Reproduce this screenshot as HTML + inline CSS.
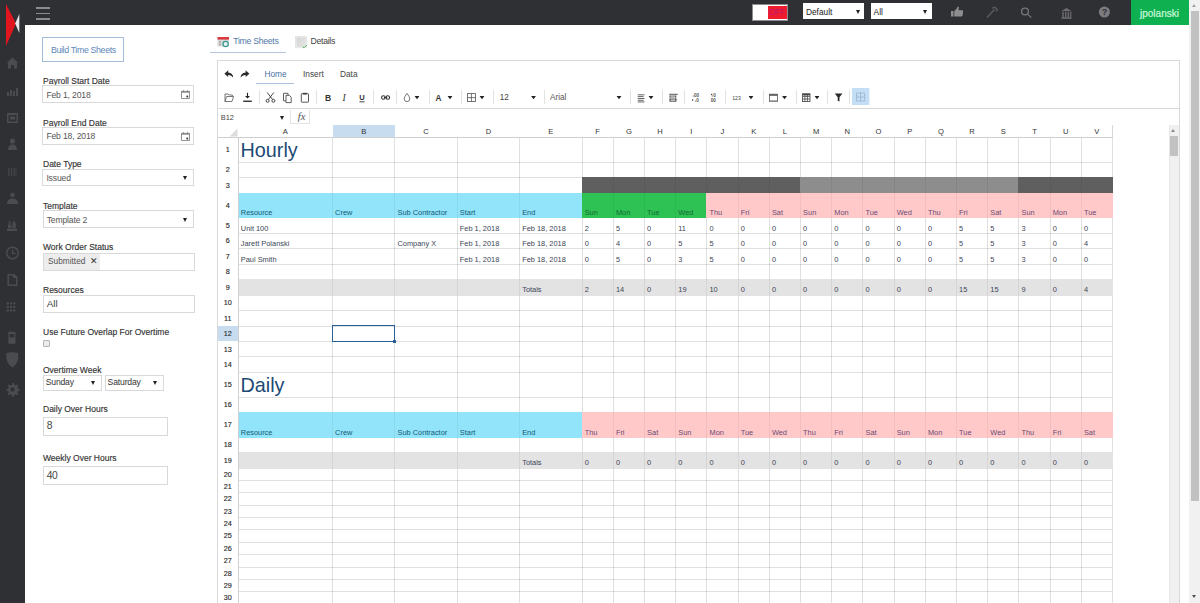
<!DOCTYPE html>
<html><head><meta charset="utf-8"><title>Time Sheets</title>
<style>
*{box-sizing:border-box;margin:0;padding:0}
html,body{width:1200px;height:603px;overflow:hidden;background:#fff}
body{position:relative;font-family:"Liberation Sans", Arial, sans-serif;color:#333}
.abs{position:absolute}
.t{position:absolute;white-space:nowrap;line-height:1}
.lbl{position:absolute;white-space:nowrap;line-height:1;font-size:8.5px;color:#333;-webkit-text-stroke:0.15px #333}
.inp{position:absolute;border:1px solid #d9d9d9;background:#fff}
.inp span{position:absolute;white-space:nowrap;line-height:1}
.arr{position:absolute;width:0;height:0;border-left:2.8px solid transparent;border-right:2.8px solid transparent;border-top:4px solid #222}
.hl{position:absolute;height:1px;background:#dadada}
.vl{position:absolute;width:1px;background:#dadada}
.cell{position:absolute;white-space:nowrap;line-height:1;font-size:7.4px;color:#4b5060}
.sep{position:absolute;width:1px;height:14.5px;top:89.8px;background:#e2e2e2}
</style></head><body>
<div class="abs" style="left:0;top:0;width:1189px;height:25px;background:#2f3034"></div><div class="abs" style="left:1130.5px;top:0;width:58.5px;height:25px;background:#0eb04f"></div><div class="t" style="left:1140px;top:8.6px;font-size:10px;color:#cdf8dc;-webkit-text-stroke:0.2px #cdf8dc">jpolanski</div><div class="abs" style="left:36px;top:7px;width:13.5px;height:1.8px;background:#8c8c8e"></div><div class="abs" style="left:36px;top:12.6px;width:13.5px;height:1.8px;background:#8c8c8e"></div><div class="abs" style="left:36px;top:18.2px;width:13.5px;height:1.8px;background:#8c8c8e"></div><div class="abs" style="left:752px;top:4.2px;width:35.5px;height:16.4px;border:1.5px solid #8e8e8e;background:#fff"></div><div class="abs" style="left:767.6px;top:5.7px;width:19px;height:13.4px;background:#ee1c2c"></div><div class="t" style="left:768.8px;top:8.2px;font-size:9px;letter-spacing:-0.6px;color:#c4186a">OFF</div><div class="abs" style="left:803px;top:3.3px;width:61px;height:16px;background:#fff"></div><div class="t" style="left:806px;top:7.6px;font-size:8.3px;color:#222">Default</div><div class="arr" style="left:855.8px;top:9.6px"></div><div class="abs" style="left:870.8px;top:3.3px;width:61px;height:16px;background:#fff"></div><div class="t" style="left:873.6px;top:7.6px;font-size:8.3px;color:#222">All</div><div class="arr" style="left:922.6px;top:9.6px"></div><svg class="abs" style="left:940px;top:0" width="180" height="25" viewBox="0 0 180 25">
<g fill="#8e8e90">
 <rect x="11" y="11" width="2.5" height="5.5"/>
 <path d="M14.3 11 L17 8.2 L17.6 6.6 L18.9 7 L18.6 10.2 L22.6 10.2 Q23.5 10.6 23.1 11.6 L22.6 15.6 Q22.3 16.5 21.3 16.5 L14.3 16.5 Z"/>
</g>
<g stroke="#5c5c60" stroke-width="1.3" fill="none">
 <path d="M47 17.5 L54.5 9.5"/>
 <path d="M52 8.2 L55 7.3 L57.4 9.7 L56 11.2"/>
</g>
<g stroke="#78787b" stroke-width="1.3" fill="none">
 <circle cx="85" cy="11.5" r="3.4"/>
 <path d="M87.6 14.1 L91.3 17.6"/>
</g>
<g fill="#6e6e72">
 <path d="M121.5 11 L126.5 8 L131.5 11 Z"/>
 <rect x="122.3" y="11.6" width="1.4" height="5.6"/>
 <rect x="125" y="11.6" width="1.4" height="5.6"/>
 <rect x="127.7" y="11.6" width="1.4" height="5.6"/>
 <rect x="130.2" y="11.6" width="1.2" height="5.6"/>
 <rect x="121.5" y="17.2" width="10" height="1.6"/>
</g>
<circle cx="164.4" cy="12" r="5.5" fill="#7c7c80"/>
<text x="164.4" y="15.4" font-family="Liberation Sans" font-weight="bold" font-size="9" fill="#2d2e32" text-anchor="middle">?</text>
</svg><div class="abs" style="left:0;top:0;width:25px;height:603px;background:#2f3034"></div><svg class="abs" style="left:0;top:0" width="25" height="60" viewBox="0 0 25 60">
<path d="M6 4 L16 23.5 L6 46 Z" fill="#e0161e"/>
<path d="M19.3 14 L19.3 33 L15.2 23.5 Z" fill="#e8e8ea"/>
</svg><svg class="abs" style="left:0;top:50px" width="25" height="360" viewBox="0 50 25 360">
<g fill="#4b4c50">
 <path d="M12.5 57.5 L18.5 63 L17 63 L17 68.5 L14 68.5 L14 65 L11 65 L11 68.5 L8 68.5 L8 63 L6.5 63 Z"/>
 <rect x="7" y="92" width="2" height="4"/><rect x="10" y="90" width="2" height="6"/><rect x="13" y="91" width="2" height="5"/><rect x="16" y="88" width="2" height="8"/>
 <path d="M7 113 h11 v10 h-11 z M8.5 115 v6.5 h8 v-6.5 z"/><rect x="10" y="116.5" width="5" height="3"/>
 <circle cx="12.5" cy="141" r="2.6"/><path d="M8 150 Q8 144.5 12.5 144.5 Q17 144.5 17 150 Z"/>
 <g opacity="0.7"><rect x="8.2" y="168" width="1.4" height="8"/><rect x="10.9" y="168" width="1.4" height="8"/><rect x="13.6" y="168" width="1.4" height="8"/><rect x="15.6" y="169" width="0.9" height="7"/></g>
 <circle cx="12.5" cy="195" r="2.3"/><path d="M7 204 Q7 198.5 12.5 198.5 Q18 198.5 18 204 Z"/>
 <rect x="7" y="228.8" width="10" height="2.2"/><rect x="8" y="224.5" width="3.4" height="3.8"/><rect x="12.4" y="223.2" width="3.4" height="5.1"/><rect x="8.8" y="221.2" width="1.6" height="2.8"/><path d="M12.4 223.2 L14.1 220.8 L15.8 223.2 Z"/>
 <path d="M12.5 246.5 a6.5 6.5 0 1 0 0.01 0 Z M12.5 248 a5 5 0 1 1 -0.01 0 Z" fill-rule="evenodd"/><rect x="12" y="249.5" width="1.2" height="4"/><rect x="12" y="252.8" width="3.5" height="1.2"/>
 <path d="M7.5 274 h7 l3 3 v9 h-10 z M9 275.5 v9 h7 v-6.5 h-3 v-2.5 z" fill-rule="evenodd"/>
 <circle cx="7.8" cy="303.4" r="1.2"/><circle cx="11" cy="303.4" r="1.2"/><circle cx="14.2" cy="303.4" r="1.2"/>
 <circle cx="7.8" cy="306.9" r="1.2"/><circle cx="11" cy="306.9" r="1.2"/><circle cx="14.2" cy="306.9" r="1.2"/>
 <circle cx="7.8" cy="310.4" r="1.2"/><circle cx="11" cy="310.4" r="1.2"/><circle cx="14.2" cy="310.4" r="1.2"/>
 <path d="M8.4 332 h7 v11.8 h-7 z M9.6 334 v3.6 h4.6 v-3.6 z" fill-rule="evenodd"/><rect x="9.6" y="330.6" width="1" height="1.8"/>
 <path d="M6.5 353 Q12.3 351.5 18.2 353 L18.2 358.5 Q17 364.5 12.3 367.6 Q7.6 364.5 6.5 358.5 Z"/>
 <path d="M12.5 383 l1.3 0 l0.4 1.8 l1.6 0.8 l1.6 -1 l1 1 l-1 1.6 l0.7 1.6 l1.8 0.4 l0 1.4 l-1.8 0.4 l-0.7 1.6 l1 1.6 l-1 1 l-1.6 -1 l-1.6 0.7 l-0.4 1.8 l-1.4 0 l-0.4 -1.8 l-1.6 -0.7 l-1.6 1 l-1 -1 l1 -1.6 l-0.7 -1.6 l-1.8 -0.4 l0 -1.4 l1.8 -0.4 l0.7 -1.6 l-1 -1.6 l1 -1 l1.6 1 l1.6 -0.8 l0.4 -1.8 Z M12.5 387.3 a2.2 2.2 0 1 0 0.01 0 Z" fill-rule="evenodd"/>
</g></svg><div class="abs" style="left:1189px;top:0;width:11px;height:603px;background:#f1f1f1"></div><div class="abs" style="left:1191px;top:11px;width:7.5px;height:490px;background:#c1c1c1"></div><div class="abs" style="left:1192.3px;top:4px;width:0;height:0;border-left:2.5px solid transparent;border-right:2.5px solid transparent;border-bottom:3px solid #a3a3a3"></div><div class="abs" style="left:1192.3px;top:595px;width:0;height:0;border-left:2.8px solid transparent;border-right:2.8px solid transparent;border-top:3.2px solid #505050"></div><div class="abs" style="left:42.3px;top:37.3px;width:81.8px;height:24.8px;border:1px solid #a3bcd9;background:#fff"></div><div class="t" style="left:50.9px;top:45.7px;font-size:8.8px;letter-spacing:-0.35px;color:#5d86b8">Build Time Sheets</div><div class="lbl" style="left:43px;top:76.88px;font-size:8.5px">Payroll Start Date</div><div class="inp" style="left:42.3px;top:85.3px;width:151.5px;height:18px"></div><div class="t" style="left:46.4px;top:90.99px;font-size:8.6px;color:#555;letter-spacing:-0.16px">Feb 1, 2018</div><svg class="abs" style="left:180.6px;top:89.8px" width="9" height="9" viewBox="0 0 9 9"><rect x="0.6" y="1.3" width="7.8" height="7.1" fill="none" stroke="#777" stroke-width="0.8"/><rect x="0.6" y="1.3" width="7.8" height="1.4" fill="#888"/><rect x="2" y="0.2" width="0.8" height="1.6" fill="#777"/><rect x="6.1" y="0.2" width="0.8" height="1.6" fill="#777"/><rect x="5.4" y="5.6" width="1.8" height="1.8" fill="#333"/></svg><div class="lbl" style="left:43px;top:118.68px;font-size:8.5px">Payroll End Date</div><div class="inp" style="left:42.3px;top:127.4px;width:151.5px;height:17.8px"></div><div class="t" style="left:46.4px;top:132.29px;font-size:8.6px;color:#555;letter-spacing:-0.16px">Feb 18, 2018</div><svg class="abs" style="left:180.6px;top:131.8px" width="9" height="9" viewBox="0 0 9 9"><rect x="0.6" y="1.3" width="7.8" height="7.1" fill="none" stroke="#777" stroke-width="0.8"/><rect x="0.6" y="1.3" width="7.8" height="1.4" fill="#888"/><rect x="2" y="0.2" width="0.8" height="1.6" fill="#777"/><rect x="6.1" y="0.2" width="0.8" height="1.6" fill="#777"/><rect x="5.4" y="5.6" width="1.8" height="1.8" fill="#333"/></svg><div class="lbl" style="left:43px;top:160.28px;font-size:8.5px">Date Type</div><div class="inp" style="left:42.3px;top:169.2px;width:151.5px;height:17.3px"></div><div class="t" style="left:46.4px;top:174.49px;font-size:8.6px;color:#555;letter-spacing:-0.16px">Issued</div><div class="arr" style="left:182.7px;top:176.15px"></div><div class="lbl" style="left:43px;top:201.98px;font-size:8.5px">Template</div><div class="inp" style="left:42.6px;top:210.4px;width:151px;height:18px"></div><div class="t" style="left:46.7px;top:215.89px;font-size:8.6px;color:#555;letter-spacing:-0.16px">Template 2</div><div class="arr" style="left:182.5px;top:217.7px"></div><div class="lbl" style="left:43px;top:243.48px;font-size:8.5px">Work Order Status</div><div class="inp" style="left:42.6px;top:252.5px;width:152px;height:18.2px"></div><div class="abs" style="left:43.6px;top:253.5px;width:56.7px;height:16.2px;background:#ededed"></div><div class="t" style="left:48px;top:257.44px;font-size:8.3px;color:#555">Submitted</div><div class="t" style="left:89.8px;top:256.95px;font-size:8.6px;color:#333">&#x2715;</div><div class="lbl" style="left:43px;top:285.77px;font-size:8.5px">Resources</div><div class="inp" style="left:42.6px;top:294.5px;width:152.2px;height:18px"></div><div class="t" style="left:46.7px;top:298.88px;font-size:9.9px;color:#444;letter-spacing:0px">All</div><div class="lbl" style="left:43px;top:327.97px;font-size:8.5px">Use Future Overlap For Overtime</div><div class="abs" style="left:42.6px;top:340.3px;width:7.3px;height:6.6px;border:1px solid #b5b5b5;background:#ececec;border-radius:1px"></div><div class="lbl" style="left:43px;top:366.07px;font-size:8.5px">Overtime Week</div><div class="inp" style="left:42.6px;top:375.4px;width:59.1px;height:15.2px"></div><div class="t" style="left:45.7px;top:377.99px;font-size:8.6px;color:#333;letter-spacing:-0.16px">Sunday</div><div class="arr" style="left:90.6px;top:381.3px"></div><div class="inp" style="left:104.5px;top:375.4px;width:59.1px;height:15.2px"></div><div class="t" style="left:107.6px;top:377.99px;font-size:8.6px;color:#333;letter-spacing:-0.16px">Saturday</div><div class="arr" style="left:152.5px;top:381.3px"></div><div class="lbl" style="left:43px;top:405.17px;font-size:8.5px">Daily Over Hours</div><div class="inp" style="left:42.6px;top:417.2px;width:125.1px;height:18.7px"></div><div class="t" style="left:46.7px;top:421.44px;font-size:10.3px;color:#444;letter-spacing:-0.5px">8</div><div class="lbl" style="left:43px;top:454.47px;font-size:8.5px">Weekly Over Hours</div><div class="inp" style="left:42.6px;top:466.4px;width:125.1px;height:19px"></div><div class="t" style="left:46.7px;top:470.94px;font-size:10.3px;color:#444;letter-spacing:-0.5px">40</div><svg class="abs" style="left:217px;top:36px" width="13" height="12" viewBox="0 0 13 12">
<rect x="0.5" y="1" width="11.5" height="9.5" fill="#d9d9d9"/>
<rect x="0.5" y="1" width="11.5" height="2.6" fill="#d9393f"/>
<rect x="2" y="5" width="2" height="1.6" fill="#aaa"/><rect x="2" y="7.6" width="2" height="1.6" fill="#aaa"/>
<circle cx="8.6" cy="8" r="3.2" fill="#3a9a8e"/><circle cx="8.6" cy="8" r="2" fill="#e8f3f1"/>
</svg><div class="t" style="left:233.3px;top:37.2px;font-size:8.7px;letter-spacing:-0.3px;color:#5279a8">Time Sheets</div><div class="abs" style="left:210px;top:51.8px;width:76px;height:1.2px;background:#b2c7e0"></div><svg class="abs" style="left:295px;top:35.5px" width="14" height="13" viewBox="0 0 14 13">
<defs><linearGradient id="dg" x1="0" y1="0" x2="1" y2="1"><stop offset="0" stop-color="#d2d2d2"/><stop offset="1" stop-color="#e9e9e9"/></linearGradient></defs>
<rect x="0.3" y="0.3" width="11.8" height="11.8" fill="url(#dg)"/>
<rect x="1.2" y="1.2" width="10" height="10" fill="none" stroke="#f0f0f0" stroke-width="0.6"/>
<path d="M7.6 10.6 L9 11.8 L12 8.8" stroke="#4caf5e" stroke-width="1" fill="none"/>
</svg><div class="t" style="left:310.6px;top:37.2px;font-size:8.7px;letter-spacing:-0.3px;color:#444">Details</div><div class="abs" style="left:217px;top:60.3px;width:963px;height:560px;border:1px solid #d9d9d9;background:#fff"></div><svg class="abs" style="left:222px;top:68px" width="30" height="12" viewBox="222 68 30 12">
<path d="M228.2 70.3 L224.4 73.7 L228.2 77 L228.2 75 Q231 74.6 233.3 77.6 Q232.9 72.6 228.2 72.4 Z" fill="#2b2b2b"/>
<path d="M243.8 70.3 L247.6 73.7 L243.8 77 L243.8 75 Q241 74.6 238.7 77.6 Q239.1 72.6 243.8 72.4 Z" fill="#2b2b2b" transform="translate(1.8 0)"/>
</svg><div class="t" style="left:264.5px;top:69.8px;font-size:8.3px;color:#46709f">Home</div><div class="abs" style="left:256px;top:82.6px;width:38px;height:1.2px;background:#a9c1de"></div><div class="t" style="left:303px;top:69.8px;font-size:8.3px;color:#444">Insert</div><div class="t" style="left:340px;top:69.8px;font-size:8.3px;color:#444">Data</div><div class="sep" style="left:259px"></div><div class="sep" style="left:316px"></div><div class="sep" style="left:373px"></div><div class="sep" style="left:395.8px"></div><div class="sep" style="left:428.5px"></div><div class="sep" style="left:460.7px"></div><div class="sep" style="left:492.6px"></div><div class="sep" style="left:544px"></div><div class="sep" style="left:629.7px"></div><div class="sep" style="left:662px"></div><div class="sep" style="left:684.4px"></div><div class="sep" style="left:724.7px"></div><div class="sep" style="left:762.7px"></div><div class="sep" style="left:795.7px"></div><div class="sep" style="left:827px"></div><div class="sep" style="left:849px"></div><svg class="abs" style="left:217px;top:88px" width="660" height="19" viewBox="217 88 660 19"><path d="M225 94 h3 l1 1 h3.4 v1.2 M225 94 v7.5 h7 l1.6 -5 h-7 l-1.6 5" fill="none" stroke="#555" stroke-width="0.8"/><path d="M247.5 92.8 v5" stroke="#222" stroke-width="1.1"/><path d="M245 96 l2.5 2.6 l2.5 -2.6 z" fill="#222"/><rect x="243.2" y="100.6" width="8.6" height="1.3" fill="#222"/><g fill="none" stroke="#333" stroke-width="0.9"><circle cx="267.6" cy="100.8" r="1.5"/><circle cx="273.4" cy="100.8" r="1.5"/><path d="M268.4 99.5 L273.8 92.5 M272.6 99.5 L267.2 92.5"/></g><g fill="#fff" stroke="#444" stroke-width="0.85"><path d="M283.5 93.3 h4.5 v7.5 h-4.5 z"/><path d="M286 95.3 h3.3 l1.9 1.9 v5.4 h-5.2 z"/></g><g fill="none" stroke="#444" stroke-width="0.9"><rect x="301.3" y="93.6" width="7.2" height="8.6" rx="0.6"/></g><rect x="303" y="92.8" width="3.8" height="1.8" fill="#444"/><text x="328.1" y="101" font-family="Liberation Sans" font-weight="bold" font-size="8.6" fill="#333" text-anchor="middle">B</text><text x="344.2" y="101.2" font-family="Liberation Serif" font-style="italic" font-size="9.6" fill="#333" text-anchor="middle">I</text><text x="362" y="100" font-family="Liberation Sans" font-weight="bold" font-size="7.6" fill="#333" text-anchor="middle">U</text><rect x="359.4" y="101.4" width="5.2" height="0.9" fill="#333"/><g fill="none" stroke="#333" stroke-width="1.1"><rect x="381.6" y="95.7" width="3.6" height="3.6" rx="1.8"/><rect x="386" y="95.7" width="3.6" height="3.6" rx="1.8"/></g><rect x="384" y="97" width="3.2" height="1" fill="#333"/><path d="M407 93.4 Q404.2 97 404.2 98.8 a2.8 2.8 0 0 0 5.6 0 Q409.8 97 407 93.4 z" fill="none" stroke="#555" stroke-width="0.8"/><text x="438.4" y="100.8" font-family="Liberation Sans" font-weight="bold" font-size="8.2" fill="#333" text-anchor="middle">A</text><g fill="none" stroke="#555" stroke-width="0.8"><rect x="467.4" y="93.6" width="8" height="8"/><path d="M471.4 93.6 v8 M467.4 97.6 h8"/></g><g fill="#555"><rect x="637.7" y="94.4" width="6.8" height="0.9"/><rect x="637.7" y="96.2" width="6" height="0.9"/><rect x="637.7" y="98" width="6.8" height="0.9"/><rect x="637.7" y="99.8" width="6" height="0.9"/><rect x="637.7" y="101.5" width="6.8" height="0.9"/></g><g fill="#555"><rect x="669.2" y="93.8" width="8.6" height="1"/><rect x="669.6" y="95.6" width="6.6" height="0.9"/><rect x="669.6" y="95.6" width="0.9" height="6"/><rect x="675.3" y="95.6" width="0.9" height="6"/><rect x="671" y="97.6" width="3.8" height="0.9"/><rect x="669.6" y="100.8" width="6.6" height="0.9"/><rect x="669.2" y="99.4" width="8" height="0.8"/></g><g font-family="Liberation Sans" font-weight="bold" fill="#555"><text x="694" y="96.8" font-size="4.6">00</text><text x="696.2" y="101.8" font-size="4.6">0</text><text x="710.8" y="101.8" font-size="4.6">00</text><text x="713.2" y="96.8" font-size="4.6">0</text></g><g fill="#333"><circle cx="693.2" cy="96" r="0.5"/><circle cx="695.4" cy="101" r="0.5"/><path d="M692 98.9 l1.6 1 l-1.6 1 z"/><circle cx="712.2" cy="96" r="0.5"/><path d="M712.2 93.5 l-1.6 1 l1.6 1 z"/></g><text x="736.5" y="99.7" font-family="Liberation Sans" font-size="5.2" fill="#444" text-anchor="middle">123</text><g fill="none" stroke="#555" stroke-width="0.8"><rect x="769.4" y="94.2" width="8" height="7.4"/></g><rect x="769.4" y="94.2" width="8" height="1.6" fill="#555"/><rect x="769.4" y="100.2" width="8" height="1.4" fill="#999"/><g fill="none" stroke="#444" stroke-width="0.8"><rect x="802.4" y="93.8" width="7.6" height="7.8"/><path d="M802.4 96.4 h7.6 M802.4 99 h7.6 M804.9 93.8 v7.8 M807.4 93.8 v7.8"/></g><rect x="802.4" y="93.8" width="7.6" height="1.5" fill="#444"/><path d="M834.8 93.6 h7.6 l-2.9 3.6 v4.4 l-1.8 -0.9 v-3.5 z" fill="#2b2b2b"/><rect x="852" y="88" width="17.4" height="17" fill="#c4def5"/><g fill="none" stroke="#7a8fb0" stroke-width="0.7" stroke-dasharray="1 0.7"><rect x="856.6" y="93" width="8" height="8"/><path d="M860.6 93 v8 M856.6 97 h8"/></g><path d="M414.6 95.9 h4.8 l-2.4 3.4 z" fill="#222"/><path d="M447.6 95.9 h4.8 l-2.4 3.4 z" fill="#222"/><path d="M479.6 95.9 h4.8 l-2.4 3.4 z" fill="#222"/><path d="M531.1 95.9 h4.8 l-2.4 3.4 z" fill="#222"/><path d="M616.6 95.9 h4.8 l-2.4 3.4 z" fill="#222"/><path d="M648.6 95.9 h4.8 l-2.4 3.4 z" fill="#222"/><path d="M748.6 95.9 h4.8 l-2.4 3.4 z" fill="#222"/><path d="M782.1 95.9 h4.8 l-2.4 3.4 z" fill="#222"/><path d="M814.6 95.9 h4.8 l-2.4 3.4 z" fill="#222"/></svg><div class="t" style="left:499.7px;top:93.6px;font-size:8.2px;color:#444">12</div><div class="t" style="left:550px;top:93.6px;font-size:8.2px;color:#555">Arial</div><div class="abs" style="left:218px;top:107.7px;width:961px;height:1.8px;background:#d8d8d8"></div><div class="t" style="left:220.8px;top:113.6px;font-size:7.4px;color:#444">B12</div><div class="arr" style="left:279.6px;top:115.8px;border-top-color:#222"></div><div class="abs" style="left:289.5px;top:110px;width:20px;height:14px;border:1px solid #e4e4e4;border-top:none;border-left:1px solid #e4e4e4;background:#fff"></div><div class="t" style="left:297.8px;top:111.6px;font-size:10.5px;color:#555;font-family:'Liberation Serif',serif;font-style:italic">fx</div><div class="abs" style="left:332.5px;top:125.2px;width:62.4px;height:12.36px;background:#c7dcef"></div><div class="abs" style="left:217.5px;top:326.05px;width:20.7px;height:15.45px;background:#c7dcef"></div><div class="abs" style="left:238.2px;top:161.78px;width:874.3px;height:1px;background:rgba(0,0,0,0.12)"></div><div class="abs" style="left:238.2px;top:177.23px;width:874.3px;height:1px;background:rgba(0,0,0,0.12)"></div><div class="abs" style="left:238.2px;top:192.68px;width:874.3px;height:1px;background:rgba(0,0,0,0.12)"></div><div class="abs" style="left:238.2px;top:217.4px;width:874.3px;height:1px;background:rgba(0,0,0,0.12)"></div><div class="abs" style="left:238.2px;top:232.85px;width:874.3px;height:1px;background:rgba(0,0,0,0.12)"></div><div class="abs" style="left:238.2px;top:248.3px;width:874.3px;height:1px;background:rgba(0,0,0,0.12)"></div><div class="abs" style="left:238.2px;top:263.75px;width:874.3px;height:1px;background:rgba(0,0,0,0.12)"></div><div class="abs" style="left:238.2px;top:279.2px;width:874.3px;height:1px;background:rgba(0,0,0,0.12)"></div><div class="abs" style="left:238.2px;top:294.65px;width:874.3px;height:1px;background:rgba(0,0,0,0.12)"></div><div class="abs" style="left:238.2px;top:310.1px;width:874.3px;height:1px;background:rgba(0,0,0,0.12)"></div><div class="abs" style="left:238.2px;top:325.55px;width:874.3px;height:1px;background:rgba(0,0,0,0.12)"></div><div class="abs" style="left:238.2px;top:341px;width:874.3px;height:1px;background:rgba(0,0,0,0.12)"></div><div class="abs" style="left:238.2px;top:356.45px;width:874.3px;height:1px;background:rgba(0,0,0,0.12)"></div><div class="abs" style="left:238.2px;top:371.9px;width:874.3px;height:1px;background:rgba(0,0,0,0.12)"></div><div class="abs" style="left:238.2px;top:396.62px;width:874.3px;height:1px;background:rgba(0,0,0,0.12)"></div><div class="abs" style="left:238.2px;top:412.07px;width:874.3px;height:1px;background:rgba(0,0,0,0.12)"></div><div class="abs" style="left:238.2px;top:436.79px;width:874.3px;height:1px;background:rgba(0,0,0,0.12)"></div><div class="abs" style="left:238.2px;top:452.24px;width:874.3px;height:1px;background:rgba(0,0,0,0.12)"></div><div class="abs" style="left:238.2px;top:467.69px;width:874.3px;height:1px;background:rgba(0,0,0,0.12)"></div><div class="abs" style="left:238.2px;top:480.05px;width:874.3px;height:1px;background:rgba(0,0,0,0.12)"></div><div class="abs" style="left:238.2px;top:492.41px;width:874.3px;height:1px;background:rgba(0,0,0,0.12)"></div><div class="abs" style="left:238.2px;top:504.77px;width:874.3px;height:1px;background:rgba(0,0,0,0.12)"></div><div class="abs" style="left:238.2px;top:517.13px;width:874.3px;height:1px;background:rgba(0,0,0,0.12)"></div><div class="abs" style="left:238.2px;top:529.49px;width:874.3px;height:1px;background:rgba(0,0,0,0.12)"></div><div class="abs" style="left:238.2px;top:541.85px;width:874.3px;height:1px;background:rgba(0,0,0,0.12)"></div><div class="abs" style="left:238.2px;top:554.21px;width:874.3px;height:1px;background:rgba(0,0,0,0.12)"></div><div class="abs" style="left:238.2px;top:566.57px;width:874.3px;height:1px;background:rgba(0,0,0,0.12)"></div><div class="abs" style="left:238.2px;top:578.93px;width:874.3px;height:1px;background:rgba(0,0,0,0.12)"></div><div class="abs" style="left:238.2px;top:591.29px;width:874.3px;height:1px;background:rgba(0,0,0,0.12)"></div><div class="abs" style="left:217.5px;top:137.06px;width:895px;height:1px;background:#cfcfcf"></div><div class="abs" style="left:332px;top:137.56px;width:1px;height:465.44px;background:rgba(0,0,0,0.12)"></div><div class="abs" style="left:394.4px;top:137.56px;width:1px;height:465.44px;background:rgba(0,0,0,0.12)"></div><div class="abs" style="left:456.7px;top:137.56px;width:1px;height:465.44px;background:rgba(0,0,0,0.12)"></div><div class="abs" style="left:519.1px;top:137.56px;width:1px;height:465.44px;background:rgba(0,0,0,0.12)"></div><div class="abs" style="left:581.6px;top:137.56px;width:1px;height:465.44px;background:rgba(0,0,0,0.12)"></div><div class="abs" style="left:612.8px;top:137.56px;width:1px;height:465.44px;background:rgba(0,0,0,0.12)"></div><div class="abs" style="left:644px;top:137.56px;width:1px;height:465.44px;background:rgba(0,0,0,0.12)"></div><div class="abs" style="left:675.2px;top:137.56px;width:1px;height:465.44px;background:rgba(0,0,0,0.12)"></div><div class="abs" style="left:706.4px;top:137.56px;width:1px;height:465.44px;background:rgba(0,0,0,0.12)"></div><div class="abs" style="left:737.6px;top:137.56px;width:1px;height:465.44px;background:rgba(0,0,0,0.12)"></div><div class="abs" style="left:768.8px;top:137.56px;width:1px;height:465.44px;background:rgba(0,0,0,0.12)"></div><div class="abs" style="left:800px;top:137.56px;width:1px;height:465.44px;background:rgba(0,0,0,0.12)"></div><div class="abs" style="left:831.2px;top:137.56px;width:1px;height:465.44px;background:rgba(0,0,0,0.12)"></div><div class="abs" style="left:862.4px;top:137.56px;width:1px;height:465.44px;background:rgba(0,0,0,0.12)"></div><div class="abs" style="left:893.6px;top:137.56px;width:1px;height:465.44px;background:rgba(0,0,0,0.12)"></div><div class="abs" style="left:924.8px;top:137.56px;width:1px;height:465.44px;background:rgba(0,0,0,0.12)"></div><div class="abs" style="left:956px;top:137.56px;width:1px;height:465.44px;background:rgba(0,0,0,0.12)"></div><div class="abs" style="left:987.2px;top:137.56px;width:1px;height:465.44px;background:rgba(0,0,0,0.12)"></div><div class="abs" style="left:1018.4px;top:137.56px;width:1px;height:465.44px;background:rgba(0,0,0,0.12)"></div><div class="abs" style="left:1049.6px;top:137.56px;width:1px;height:465.44px;background:rgba(0,0,0,0.12)"></div><div class="abs" style="left:1080.8px;top:137.56px;width:1px;height:465.44px;background:rgba(0,0,0,0.12)"></div><div class="abs" style="left:1112px;top:137.56px;width:1px;height:465.44px;background:rgba(0,0,0,0.12)"></div><div class="abs" style="left:581.6px;top:177.23px;width:219.4px;height:16.45px;background:#5f5f5f"></div><div class="abs" style="left:612.8px;top:177.23px;width:1px;height:16.45px;background:rgba(0,0,0,0.05)"></div><div class="abs" style="left:644px;top:177.23px;width:1px;height:16.45px;background:rgba(0,0,0,0.05)"></div><div class="abs" style="left:675.2px;top:177.23px;width:1px;height:16.45px;background:rgba(0,0,0,0.05)"></div><div class="abs" style="left:706.4px;top:177.23px;width:1px;height:16.45px;background:rgba(0,0,0,0.05)"></div><div class="abs" style="left:737.6px;top:177.23px;width:1px;height:16.45px;background:rgba(0,0,0,0.05)"></div><div class="abs" style="left:768.8px;top:177.23px;width:1px;height:16.45px;background:rgba(0,0,0,0.05)"></div><div class="abs" style="left:800px;top:177.23px;width:219.4px;height:16.45px;background:#8d8d8d"></div><div class="abs" style="left:831.2px;top:177.23px;width:1px;height:16.45px;background:rgba(0,0,0,0.05)"></div><div class="abs" style="left:862.4px;top:177.23px;width:1px;height:16.45px;background:rgba(0,0,0,0.05)"></div><div class="abs" style="left:893.6px;top:177.23px;width:1px;height:16.45px;background:rgba(0,0,0,0.05)"></div><div class="abs" style="left:924.8px;top:177.23px;width:1px;height:16.45px;background:rgba(0,0,0,0.05)"></div><div class="abs" style="left:956px;top:177.23px;width:1px;height:16.45px;background:rgba(0,0,0,0.05)"></div><div class="abs" style="left:987.2px;top:177.23px;width:1px;height:16.45px;background:rgba(0,0,0,0.05)"></div><div class="abs" style="left:1018.4px;top:177.23px;width:94.6px;height:16.45px;background:#5f5f5f"></div><div class="abs" style="left:1049.6px;top:177.23px;width:1px;height:16.45px;background:rgba(0,0,0,0.05)"></div><div class="abs" style="left:1080.8px;top:177.23px;width:1px;height:16.45px;background:rgba(0,0,0,0.05)"></div><div class="abs" style="left:238.2px;top:192.68px;width:344.4px;height:25.72px;background:#91e4f9"></div><div class="abs" style="left:332px;top:192.68px;width:1px;height:25.72px;background:rgba(0,0,0,0.05)"></div><div class="abs" style="left:394.4px;top:192.68px;width:1px;height:25.72px;background:rgba(0,0,0,0.05)"></div><div class="abs" style="left:456.7px;top:192.68px;width:1px;height:25.72px;background:rgba(0,0,0,0.05)"></div><div class="abs" style="left:519.1px;top:192.68px;width:1px;height:25.72px;background:rgba(0,0,0,0.05)"></div><div class="abs" style="left:581.6px;top:192.68px;width:125.8px;height:25.72px;background:#2ec254"></div><div class="abs" style="left:612.8px;top:192.68px;width:1px;height:25.72px;background:rgba(0,0,0,0.05)"></div><div class="abs" style="left:644px;top:192.68px;width:1px;height:25.72px;background:rgba(0,0,0,0.05)"></div><div class="abs" style="left:675.2px;top:192.68px;width:1px;height:25.72px;background:rgba(0,0,0,0.05)"></div><div class="abs" style="left:706.4px;top:192.68px;width:406.6px;height:25.72px;background:#ffc9c9"></div><div class="abs" style="left:737.6px;top:192.68px;width:1px;height:25.72px;background:rgba(0,0,0,0.05)"></div><div class="abs" style="left:768.8px;top:192.68px;width:1px;height:25.72px;background:rgba(0,0,0,0.05)"></div><div class="abs" style="left:800px;top:192.68px;width:1px;height:25.72px;background:rgba(0,0,0,0.05)"></div><div class="abs" style="left:831.2px;top:192.68px;width:1px;height:25.72px;background:rgba(0,0,0,0.05)"></div><div class="abs" style="left:862.4px;top:192.68px;width:1px;height:25.72px;background:rgba(0,0,0,0.05)"></div><div class="abs" style="left:893.6px;top:192.68px;width:1px;height:25.72px;background:rgba(0,0,0,0.05)"></div><div class="abs" style="left:924.8px;top:192.68px;width:1px;height:25.72px;background:rgba(0,0,0,0.05)"></div><div class="abs" style="left:956px;top:192.68px;width:1px;height:25.72px;background:rgba(0,0,0,0.05)"></div><div class="abs" style="left:987.2px;top:192.68px;width:1px;height:25.72px;background:rgba(0,0,0,0.05)"></div><div class="abs" style="left:1018.4px;top:192.68px;width:1px;height:25.72px;background:rgba(0,0,0,0.05)"></div><div class="abs" style="left:1049.6px;top:192.68px;width:1px;height:25.72px;background:rgba(0,0,0,0.05)"></div><div class="abs" style="left:1080.8px;top:192.68px;width:1px;height:25.72px;background:rgba(0,0,0,0.05)"></div><div class="abs" style="left:238.2px;top:412.07px;width:344.4px;height:25.72px;background:#91e4f9"></div><div class="abs" style="left:332px;top:412.07px;width:1px;height:25.72px;background:rgba(0,0,0,0.05)"></div><div class="abs" style="left:394.4px;top:412.07px;width:1px;height:25.72px;background:rgba(0,0,0,0.05)"></div><div class="abs" style="left:456.7px;top:412.07px;width:1px;height:25.72px;background:rgba(0,0,0,0.05)"></div><div class="abs" style="left:519.1px;top:412.07px;width:1px;height:25.72px;background:rgba(0,0,0,0.05)"></div><div class="abs" style="left:581.6px;top:412.07px;width:531.4px;height:25.72px;background:#ffc9c9"></div><div class="abs" style="left:612.8px;top:412.07px;width:1px;height:25.72px;background:rgba(0,0,0,0.05)"></div><div class="abs" style="left:644px;top:412.07px;width:1px;height:25.72px;background:rgba(0,0,0,0.05)"></div><div class="abs" style="left:675.2px;top:412.07px;width:1px;height:25.72px;background:rgba(0,0,0,0.05)"></div><div class="abs" style="left:706.4px;top:412.07px;width:1px;height:25.72px;background:rgba(0,0,0,0.05)"></div><div class="abs" style="left:737.6px;top:412.07px;width:1px;height:25.72px;background:rgba(0,0,0,0.05)"></div><div class="abs" style="left:768.8px;top:412.07px;width:1px;height:25.72px;background:rgba(0,0,0,0.05)"></div><div class="abs" style="left:800px;top:412.07px;width:1px;height:25.72px;background:rgba(0,0,0,0.05)"></div><div class="abs" style="left:831.2px;top:412.07px;width:1px;height:25.72px;background:rgba(0,0,0,0.05)"></div><div class="abs" style="left:862.4px;top:412.07px;width:1px;height:25.72px;background:rgba(0,0,0,0.05)"></div><div class="abs" style="left:893.6px;top:412.07px;width:1px;height:25.72px;background:rgba(0,0,0,0.05)"></div><div class="abs" style="left:924.8px;top:412.07px;width:1px;height:25.72px;background:rgba(0,0,0,0.05)"></div><div class="abs" style="left:956px;top:412.07px;width:1px;height:25.72px;background:rgba(0,0,0,0.05)"></div><div class="abs" style="left:987.2px;top:412.07px;width:1px;height:25.72px;background:rgba(0,0,0,0.05)"></div><div class="abs" style="left:1018.4px;top:412.07px;width:1px;height:25.72px;background:rgba(0,0,0,0.05)"></div><div class="abs" style="left:1049.6px;top:412.07px;width:1px;height:25.72px;background:rgba(0,0,0,0.05)"></div><div class="abs" style="left:1080.8px;top:412.07px;width:1px;height:25.72px;background:rgba(0,0,0,0.05)"></div><div class="abs" style="left:238.2px;top:279.2px;width:874.8px;height:16.45px;background:#e3e3e3"></div><div class="abs" style="left:332px;top:279.2px;width:1px;height:16.45px;background:rgba(0,0,0,0.06)"></div><div class="abs" style="left:394.4px;top:279.2px;width:1px;height:16.45px;background:rgba(0,0,0,0.06)"></div><div class="abs" style="left:456.7px;top:279.2px;width:1px;height:16.45px;background:rgba(0,0,0,0.06)"></div><div class="abs" style="left:519.1px;top:279.2px;width:1px;height:16.45px;background:rgba(0,0,0,0.06)"></div><div class="abs" style="left:581.6px;top:279.2px;width:1px;height:16.45px;background:rgba(0,0,0,0.06)"></div><div class="abs" style="left:612.8px;top:279.2px;width:1px;height:16.45px;background:rgba(0,0,0,0.06)"></div><div class="abs" style="left:644px;top:279.2px;width:1px;height:16.45px;background:rgba(0,0,0,0.06)"></div><div class="abs" style="left:675.2px;top:279.2px;width:1px;height:16.45px;background:rgba(0,0,0,0.06)"></div><div class="abs" style="left:706.4px;top:279.2px;width:1px;height:16.45px;background:rgba(0,0,0,0.06)"></div><div class="abs" style="left:737.6px;top:279.2px;width:1px;height:16.45px;background:rgba(0,0,0,0.06)"></div><div class="abs" style="left:768.8px;top:279.2px;width:1px;height:16.45px;background:rgba(0,0,0,0.06)"></div><div class="abs" style="left:800px;top:279.2px;width:1px;height:16.45px;background:rgba(0,0,0,0.06)"></div><div class="abs" style="left:831.2px;top:279.2px;width:1px;height:16.45px;background:rgba(0,0,0,0.06)"></div><div class="abs" style="left:862.4px;top:279.2px;width:1px;height:16.45px;background:rgba(0,0,0,0.06)"></div><div class="abs" style="left:893.6px;top:279.2px;width:1px;height:16.45px;background:rgba(0,0,0,0.06)"></div><div class="abs" style="left:924.8px;top:279.2px;width:1px;height:16.45px;background:rgba(0,0,0,0.06)"></div><div class="abs" style="left:956px;top:279.2px;width:1px;height:16.45px;background:rgba(0,0,0,0.06)"></div><div class="abs" style="left:987.2px;top:279.2px;width:1px;height:16.45px;background:rgba(0,0,0,0.06)"></div><div class="abs" style="left:1018.4px;top:279.2px;width:1px;height:16.45px;background:rgba(0,0,0,0.06)"></div><div class="abs" style="left:1049.6px;top:279.2px;width:1px;height:16.45px;background:rgba(0,0,0,0.06)"></div><div class="abs" style="left:1080.8px;top:279.2px;width:1px;height:16.45px;background:rgba(0,0,0,0.06)"></div><div class="abs" style="left:238.2px;top:452.24px;width:874.8px;height:16.45px;background:#e3e3e3"></div><div class="abs" style="left:332px;top:452.24px;width:1px;height:16.45px;background:rgba(0,0,0,0.06)"></div><div class="abs" style="left:394.4px;top:452.24px;width:1px;height:16.45px;background:rgba(0,0,0,0.06)"></div><div class="abs" style="left:456.7px;top:452.24px;width:1px;height:16.45px;background:rgba(0,0,0,0.06)"></div><div class="abs" style="left:519.1px;top:452.24px;width:1px;height:16.45px;background:rgba(0,0,0,0.06)"></div><div class="abs" style="left:581.6px;top:452.24px;width:1px;height:16.45px;background:rgba(0,0,0,0.06)"></div><div class="abs" style="left:612.8px;top:452.24px;width:1px;height:16.45px;background:rgba(0,0,0,0.06)"></div><div class="abs" style="left:644px;top:452.24px;width:1px;height:16.45px;background:rgba(0,0,0,0.06)"></div><div class="abs" style="left:675.2px;top:452.24px;width:1px;height:16.45px;background:rgba(0,0,0,0.06)"></div><div class="abs" style="left:706.4px;top:452.24px;width:1px;height:16.45px;background:rgba(0,0,0,0.06)"></div><div class="abs" style="left:737.6px;top:452.24px;width:1px;height:16.45px;background:rgba(0,0,0,0.06)"></div><div class="abs" style="left:768.8px;top:452.24px;width:1px;height:16.45px;background:rgba(0,0,0,0.06)"></div><div class="abs" style="left:800px;top:452.24px;width:1px;height:16.45px;background:rgba(0,0,0,0.06)"></div><div class="abs" style="left:831.2px;top:452.24px;width:1px;height:16.45px;background:rgba(0,0,0,0.06)"></div><div class="abs" style="left:862.4px;top:452.24px;width:1px;height:16.45px;background:rgba(0,0,0,0.06)"></div><div class="abs" style="left:893.6px;top:452.24px;width:1px;height:16.45px;background:rgba(0,0,0,0.06)"></div><div class="abs" style="left:924.8px;top:452.24px;width:1px;height:16.45px;background:rgba(0,0,0,0.06)"></div><div class="abs" style="left:956px;top:452.24px;width:1px;height:16.45px;background:rgba(0,0,0,0.06)"></div><div class="abs" style="left:987.2px;top:452.24px;width:1px;height:16.45px;background:rgba(0,0,0,0.06)"></div><div class="abs" style="left:1018.4px;top:452.24px;width:1px;height:16.45px;background:rgba(0,0,0,0.06)"></div><div class="abs" style="left:1049.6px;top:452.24px;width:1px;height:16.45px;background:rgba(0,0,0,0.06)"></div><div class="abs" style="left:1080.8px;top:452.24px;width:1px;height:16.45px;background:rgba(0,0,0,0.06)"></div><div class="abs" style="left:237.7px;top:137.56px;width:1px;height:465.44px;background:#d0d0d0"></div><div class="abs" style="left:1112px;top:125.2px;width:1px;height:12.36px;background:#d6d6d6"></div><svg class="abs" style="left:229px;top:128px" width="9" height="9" viewBox="0 0 9 9"><path d="M8.5 0.5 L8.5 8.5 L0.5 8.5 Z" fill="#dcdcdc"/></svg><div class="t" style="left:275.35px;width:20px;text-align:center;top:128.4px;font-size:7.6px;color:#333">A</div><div class="t" style="left:353.7px;width:20px;text-align:center;top:128.4px;font-size:7.6px;color:#333">B</div><div class="t" style="left:416.05px;width:20px;text-align:center;top:128.4px;font-size:7.6px;color:#333">C</div><div class="t" style="left:478.4px;width:20px;text-align:center;top:128.4px;font-size:7.6px;color:#333">D</div><div class="t" style="left:540.85px;width:20px;text-align:center;top:128.4px;font-size:7.6px;color:#333">E</div><div class="t" style="left:587.7px;width:20px;text-align:center;top:128.4px;font-size:7.6px;color:#333">F</div><div class="t" style="left:618.9px;width:20px;text-align:center;top:128.4px;font-size:7.6px;color:#333">G</div><div class="t" style="left:650.1px;width:20px;text-align:center;top:128.4px;font-size:7.6px;color:#333">H</div><div class="t" style="left:681.3px;width:20px;text-align:center;top:128.4px;font-size:7.6px;color:#333">I</div><div class="t" style="left:712.5px;width:20px;text-align:center;top:128.4px;font-size:7.6px;color:#333">J</div><div class="t" style="left:743.7px;width:20px;text-align:center;top:128.4px;font-size:7.6px;color:#333">K</div><div class="t" style="left:774.9px;width:20px;text-align:center;top:128.4px;font-size:7.6px;color:#333">L</div><div class="t" style="left:806.1px;width:20px;text-align:center;top:128.4px;font-size:7.6px;color:#333">M</div><div class="t" style="left:837.3px;width:20px;text-align:center;top:128.4px;font-size:7.6px;color:#333">N</div><div class="t" style="left:868.5px;width:20px;text-align:center;top:128.4px;font-size:7.6px;color:#333">O</div><div class="t" style="left:899.7px;width:20px;text-align:center;top:128.4px;font-size:7.6px;color:#333">P</div><div class="t" style="left:930.9px;width:20px;text-align:center;top:128.4px;font-size:7.6px;color:#333">Q</div><div class="t" style="left:962.1px;width:20px;text-align:center;top:128.4px;font-size:7.6px;color:#333">R</div><div class="t" style="left:993.3px;width:20px;text-align:center;top:128.4px;font-size:7.6px;color:#333">S</div><div class="t" style="left:1024.5px;width:20px;text-align:center;top:128.4px;font-size:7.6px;color:#333">T</div><div class="t" style="left:1055.7px;width:20px;text-align:center;top:128.4px;font-size:7.6px;color:#333">U</div><div class="t" style="left:1086.9px;width:20px;text-align:center;top:128.4px;font-size:7.6px;color:#333">V</div><div class="t" style="left:217.5px;width:20.7px;text-align:center;top:146.22px;font-size:7.2px;color:#2a2a2a;-webkit-text-stroke:0.15px #2a2a2a">1</div><div class="t" style="left:217.5px;width:20.7px;text-align:center;top:166.31px;font-size:7.2px;color:#2a2a2a;-webkit-text-stroke:0.15px #2a2a2a">2</div><div class="t" style="left:217.5px;width:20.7px;text-align:center;top:181.75px;font-size:7.2px;color:#2a2a2a;-webkit-text-stroke:0.15px #2a2a2a">3</div><div class="t" style="left:217.5px;width:20.7px;text-align:center;top:201.84px;font-size:7.2px;color:#2a2a2a;-webkit-text-stroke:0.15px #2a2a2a">4</div><div class="t" style="left:217.5px;width:20.7px;text-align:center;top:221.92px;font-size:7.2px;color:#2a2a2a;-webkit-text-stroke:0.15px #2a2a2a">5</div><div class="t" style="left:217.5px;width:20.7px;text-align:center;top:237.37px;font-size:7.2px;color:#2a2a2a;-webkit-text-stroke:0.15px #2a2a2a">6</div><div class="t" style="left:217.5px;width:20.7px;text-align:center;top:252.82px;font-size:7.2px;color:#2a2a2a;-webkit-text-stroke:0.15px #2a2a2a">7</div><div class="t" style="left:217.5px;width:20.7px;text-align:center;top:268.27px;font-size:7.2px;color:#2a2a2a;-webkit-text-stroke:0.15px #2a2a2a">8</div><div class="t" style="left:217.5px;width:20.7px;text-align:center;top:283.72px;font-size:7.2px;color:#2a2a2a;-webkit-text-stroke:0.15px #2a2a2a">9</div><div class="t" style="left:217.5px;width:20.7px;text-align:center;top:299.17px;font-size:7.2px;color:#2a2a2a;-webkit-text-stroke:0.15px #2a2a2a">10</div><div class="t" style="left:217.5px;width:20.7px;text-align:center;top:314.62px;font-size:7.2px;color:#2a2a2a;-webkit-text-stroke:0.15px #2a2a2a">11</div><div class="t" style="left:217.5px;width:20.7px;text-align:center;top:330.07px;font-size:7.2px;color:#2a2a2a;-webkit-text-stroke:0.15px #2a2a2a">12</div><div class="t" style="left:217.5px;width:20.7px;text-align:center;top:345.52px;font-size:7.2px;color:#2a2a2a;-webkit-text-stroke:0.15px #2a2a2a">13</div><div class="t" style="left:217.5px;width:20.7px;text-align:center;top:360.97px;font-size:7.2px;color:#2a2a2a;-webkit-text-stroke:0.15px #2a2a2a">14</div><div class="t" style="left:217.5px;width:20.7px;text-align:center;top:381.06px;font-size:7.2px;color:#2a2a2a;-webkit-text-stroke:0.15px #2a2a2a">15</div><div class="t" style="left:217.5px;width:20.7px;text-align:center;top:401.14px;font-size:7.2px;color:#2a2a2a;-webkit-text-stroke:0.15px #2a2a2a">16</div><div class="t" style="left:217.5px;width:20.7px;text-align:center;top:421.23px;font-size:7.2px;color:#2a2a2a;-webkit-text-stroke:0.15px #2a2a2a">17</div><div class="t" style="left:217.5px;width:20.7px;text-align:center;top:441.31px;font-size:7.2px;color:#2a2a2a;-webkit-text-stroke:0.15px #2a2a2a">18</div><div class="t" style="left:217.5px;width:20.7px;text-align:center;top:456.76px;font-size:7.2px;color:#2a2a2a;-webkit-text-stroke:0.15px #2a2a2a">19</div><div class="t" style="left:217.5px;width:20.7px;text-align:center;top:470.67px;font-size:7.2px;color:#2a2a2a;-webkit-text-stroke:0.15px #2a2a2a">20</div><div class="t" style="left:217.5px;width:20.7px;text-align:center;top:483.03px;font-size:7.2px;color:#2a2a2a;-webkit-text-stroke:0.15px #2a2a2a">21</div><div class="t" style="left:217.5px;width:20.7px;text-align:center;top:495.39px;font-size:7.2px;color:#2a2a2a;-webkit-text-stroke:0.15px #2a2a2a">22</div><div class="t" style="left:217.5px;width:20.7px;text-align:center;top:507.75px;font-size:7.2px;color:#2a2a2a;-webkit-text-stroke:0.15px #2a2a2a">23</div><div class="t" style="left:217.5px;width:20.7px;text-align:center;top:520.11px;font-size:7.2px;color:#2a2a2a;-webkit-text-stroke:0.15px #2a2a2a">24</div><div class="t" style="left:217.5px;width:20.7px;text-align:center;top:532.47px;font-size:7.2px;color:#2a2a2a;-webkit-text-stroke:0.15px #2a2a2a">25</div><div class="t" style="left:217.5px;width:20.7px;text-align:center;top:544.83px;font-size:7.2px;color:#2a2a2a;-webkit-text-stroke:0.15px #2a2a2a">26</div><div class="t" style="left:217.5px;width:20.7px;text-align:center;top:557.19px;font-size:7.2px;color:#2a2a2a;-webkit-text-stroke:0.15px #2a2a2a">27</div><div class="t" style="left:217.5px;width:20.7px;text-align:center;top:569.55px;font-size:7.2px;color:#2a2a2a;-webkit-text-stroke:0.15px #2a2a2a">28</div><div class="t" style="left:217.5px;width:20.7px;text-align:center;top:581.91px;font-size:7.2px;color:#2a2a2a;-webkit-text-stroke:0.15px #2a2a2a">29</div><div class="t" style="left:217.5px;width:20.7px;text-align:center;top:594.27px;font-size:7.2px;color:#2a2a2a;-webkit-text-stroke:0.15px #2a2a2a">30</div><div class="t" style="left:240.5px;top:140.88px;font-size:19.8px;color:#1c4a75">Hourly</div><div class="t" style="left:240.5px;top:375.72px;font-size:19.8px;color:#1c4a75">Daily</div><div class="cell" style="left:240.8px;top:209.2px;font-size:7.4px;color:#145a76">Resource</div><div class="cell" style="left:335.1px;top:209.2px;font-size:7.4px;color:#145a76">Crew</div><div class="cell" style="left:397.5px;top:209.2px;font-size:7.4px;color:#145a76">Sub Contractor</div><div class="cell" style="left:459.8px;top:209.2px;font-size:7.4px;color:#145a76">Start</div><div class="cell" style="left:522.2px;top:209.2px;font-size:7.4px;color:#145a76">End</div><div class="cell" style="left:240.8px;top:428.59px;font-size:7.4px;color:#145a76">Resource</div><div class="cell" style="left:335.1px;top:428.59px;font-size:7.4px;color:#145a76">Crew</div><div class="cell" style="left:397.5px;top:428.59px;font-size:7.4px;color:#145a76">Sub Contractor</div><div class="cell" style="left:459.8px;top:428.59px;font-size:7.4px;color:#145a76">Start</div><div class="cell" style="left:522.2px;top:428.59px;font-size:7.4px;color:#145a76">End</div><div class="cell" style="left:584.7px;top:209.2px;font-size:7.4px;color:#116a32">Sun</div><div class="cell" style="left:615.9px;top:209.2px;font-size:7.4px;color:#116a32">Mon</div><div class="cell" style="left:647.1px;top:209.2px;font-size:7.4px;color:#116a32">Tue</div><div class="cell" style="left:678.3px;top:209.2px;font-size:7.4px;color:#116a32">Wed</div><div class="cell" style="left:709.5px;top:209.2px;font-size:7.4px;color:#6d4a72">Thu</div><div class="cell" style="left:740.7px;top:209.2px;font-size:7.4px;color:#6d4a72">Fri</div><div class="cell" style="left:771.9px;top:209.2px;font-size:7.4px;color:#6d4a72">Sat</div><div class="cell" style="left:803.1px;top:209.2px;font-size:7.4px;color:#6d4a72">Sun</div><div class="cell" style="left:834.3px;top:209.2px;font-size:7.4px;color:#6d4a72">Mon</div><div class="cell" style="left:865.5px;top:209.2px;font-size:7.4px;color:#6d4a72">Tue</div><div class="cell" style="left:896.7px;top:209.2px;font-size:7.4px;color:#6d4a72">Wed</div><div class="cell" style="left:927.9px;top:209.2px;font-size:7.4px;color:#6d4a72">Thu</div><div class="cell" style="left:959.1px;top:209.2px;font-size:7.4px;color:#6d4a72">Fri</div><div class="cell" style="left:990.3px;top:209.2px;font-size:7.4px;color:#6d4a72">Sat</div><div class="cell" style="left:1021.5px;top:209.2px;font-size:7.4px;color:#6d4a72">Sun</div><div class="cell" style="left:1052.7px;top:209.2px;font-size:7.4px;color:#6d4a72">Mon</div><div class="cell" style="left:1083.9px;top:209.2px;font-size:7.4px;color:#6d4a72">Tue</div><div class="cell" style="left:584.7px;top:428.59px;font-size:7.4px;color:#6d4a72">Thu</div><div class="cell" style="left:615.9px;top:428.59px;font-size:7.4px;color:#6d4a72">Fri</div><div class="cell" style="left:647.1px;top:428.59px;font-size:7.4px;color:#6d4a72">Sat</div><div class="cell" style="left:678.3px;top:428.59px;font-size:7.4px;color:#6d4a72">Sun</div><div class="cell" style="left:709.5px;top:428.59px;font-size:7.4px;color:#6d4a72">Mon</div><div class="cell" style="left:740.7px;top:428.59px;font-size:7.4px;color:#6d4a72">Tue</div><div class="cell" style="left:771.9px;top:428.59px;font-size:7.4px;color:#6d4a72">Wed</div><div class="cell" style="left:803.1px;top:428.59px;font-size:7.4px;color:#6d4a72">Thu</div><div class="cell" style="left:834.3px;top:428.59px;font-size:7.4px;color:#6d4a72">Fri</div><div class="cell" style="left:865.5px;top:428.59px;font-size:7.4px;color:#6d4a72">Sat</div><div class="cell" style="left:896.7px;top:428.59px;font-size:7.4px;color:#6d4a72">Sun</div><div class="cell" style="left:927.9px;top:428.59px;font-size:7.4px;color:#6d4a72">Mon</div><div class="cell" style="left:959.1px;top:428.59px;font-size:7.4px;color:#6d4a72">Tue</div><div class="cell" style="left:990.3px;top:428.59px;font-size:7.4px;color:#6d4a72">Wed</div><div class="cell" style="left:1021.5px;top:428.59px;font-size:7.4px;color:#6d4a72">Thu</div><div class="cell" style="left:1052.7px;top:428.59px;font-size:7.4px;color:#6d4a72">Fri</div><div class="cell" style="left:1083.9px;top:428.59px;font-size:7.4px;color:#6d4a72">Sat</div><div class="cell" style="left:240.8px;top:224.65px;font-size:7.4px;color:#3b4556">Unit 100</div><div class="cell" style="left:459.8px;top:224.65px;font-size:7.4px;color:#3b4556">Feb 1, 2018</div><div class="cell" style="left:522.2px;top:224.65px;font-size:7.4px;color:#3b4556">Feb 18, 2018</div><div class="cell" style="left:584.7px;top:224.65px;font-size:7.4px;color:#3b4556">2</div><div class="cell" style="left:615.9px;top:224.65px;font-size:7.4px;color:#3b4556">5</div><div class="cell" style="left:647.1px;top:224.65px;font-size:7.4px;color:#3b4556">0</div><div class="cell" style="left:678.3px;top:224.65px;font-size:7.4px;color:#3b4556">11</div><div class="cell" style="left:709.5px;top:224.65px;font-size:7.4px;color:#3b4556">0</div><div class="cell" style="left:740.7px;top:224.65px;font-size:7.4px;color:#3b4556">0</div><div class="cell" style="left:771.9px;top:224.65px;font-size:7.4px;color:#3b4556">0</div><div class="cell" style="left:803.1px;top:224.65px;font-size:7.4px;color:#3b4556">0</div><div class="cell" style="left:834.3px;top:224.65px;font-size:7.4px;color:#3b4556">0</div><div class="cell" style="left:865.5px;top:224.65px;font-size:7.4px;color:#3b4556">0</div><div class="cell" style="left:896.7px;top:224.65px;font-size:7.4px;color:#3b4556">0</div><div class="cell" style="left:927.9px;top:224.65px;font-size:7.4px;color:#3b4556">0</div><div class="cell" style="left:959.1px;top:224.65px;font-size:7.4px;color:#3b4556">5</div><div class="cell" style="left:990.3px;top:224.65px;font-size:7.4px;color:#3b4556">5</div><div class="cell" style="left:1021.5px;top:224.65px;font-size:7.4px;color:#3b4556">3</div><div class="cell" style="left:1052.7px;top:224.65px;font-size:7.4px;color:#3b4556">0</div><div class="cell" style="left:1083.9px;top:224.65px;font-size:7.4px;color:#3b4556">0</div><div class="cell" style="left:240.8px;top:240.1px;font-size:7.4px;color:#3b4556">Jarett Polanski</div><div class="cell" style="left:397.5px;top:240.1px;font-size:7.4px;color:#3b4556">Company X</div><div class="cell" style="left:459.8px;top:240.1px;font-size:7.4px;color:#3b4556">Feb 1, 2018</div><div class="cell" style="left:522.2px;top:240.1px;font-size:7.4px;color:#3b4556">Feb 18, 2018</div><div class="cell" style="left:584.7px;top:240.1px;font-size:7.4px;color:#3b4556">0</div><div class="cell" style="left:615.9px;top:240.1px;font-size:7.4px;color:#3b4556">4</div><div class="cell" style="left:647.1px;top:240.1px;font-size:7.4px;color:#3b4556">0</div><div class="cell" style="left:678.3px;top:240.1px;font-size:7.4px;color:#3b4556">5</div><div class="cell" style="left:709.5px;top:240.1px;font-size:7.4px;color:#3b4556">5</div><div class="cell" style="left:740.7px;top:240.1px;font-size:7.4px;color:#3b4556">0</div><div class="cell" style="left:771.9px;top:240.1px;font-size:7.4px;color:#3b4556">0</div><div class="cell" style="left:803.1px;top:240.1px;font-size:7.4px;color:#3b4556">0</div><div class="cell" style="left:834.3px;top:240.1px;font-size:7.4px;color:#3b4556">0</div><div class="cell" style="left:865.5px;top:240.1px;font-size:7.4px;color:#3b4556">0</div><div class="cell" style="left:896.7px;top:240.1px;font-size:7.4px;color:#3b4556">0</div><div class="cell" style="left:927.9px;top:240.1px;font-size:7.4px;color:#3b4556">0</div><div class="cell" style="left:959.1px;top:240.1px;font-size:7.4px;color:#3b4556">5</div><div class="cell" style="left:990.3px;top:240.1px;font-size:7.4px;color:#3b4556">5</div><div class="cell" style="left:1021.5px;top:240.1px;font-size:7.4px;color:#3b4556">3</div><div class="cell" style="left:1052.7px;top:240.1px;font-size:7.4px;color:#3b4556">0</div><div class="cell" style="left:1083.9px;top:240.1px;font-size:7.4px;color:#3b4556">4</div><div class="cell" style="left:240.8px;top:255.55px;font-size:7.4px;color:#3b4556">Paul Smith</div><div class="cell" style="left:459.8px;top:255.55px;font-size:7.4px;color:#3b4556">Feb 1, 2018</div><div class="cell" style="left:522.2px;top:255.55px;font-size:7.4px;color:#3b4556">Feb 18, 2018</div><div class="cell" style="left:584.7px;top:255.55px;font-size:7.4px;color:#3b4556">0</div><div class="cell" style="left:615.9px;top:255.55px;font-size:7.4px;color:#3b4556">5</div><div class="cell" style="left:647.1px;top:255.55px;font-size:7.4px;color:#3b4556">0</div><div class="cell" style="left:678.3px;top:255.55px;font-size:7.4px;color:#3b4556">3</div><div class="cell" style="left:709.5px;top:255.55px;font-size:7.4px;color:#3b4556">5</div><div class="cell" style="left:740.7px;top:255.55px;font-size:7.4px;color:#3b4556">0</div><div class="cell" style="left:771.9px;top:255.55px;font-size:7.4px;color:#3b4556">0</div><div class="cell" style="left:803.1px;top:255.55px;font-size:7.4px;color:#3b4556">0</div><div class="cell" style="left:834.3px;top:255.55px;font-size:7.4px;color:#3b4556">0</div><div class="cell" style="left:865.5px;top:255.55px;font-size:7.4px;color:#3b4556">0</div><div class="cell" style="left:896.7px;top:255.55px;font-size:7.4px;color:#3b4556">0</div><div class="cell" style="left:927.9px;top:255.55px;font-size:7.4px;color:#3b4556">0</div><div class="cell" style="left:959.1px;top:255.55px;font-size:7.4px;color:#3b4556">5</div><div class="cell" style="left:990.3px;top:255.55px;font-size:7.4px;color:#3b4556">5</div><div class="cell" style="left:1021.5px;top:255.55px;font-size:7.4px;color:#3b4556">3</div><div class="cell" style="left:1052.7px;top:255.55px;font-size:7.4px;color:#3b4556">0</div><div class="cell" style="left:1083.9px;top:255.55px;font-size:7.4px;color:#3b4556">0</div><div class="cell" style="left:522.2px;top:286.45px;font-size:7.4px;color:#3b4556">Totals</div><div class="cell" style="left:584.7px;top:286.45px;font-size:7.4px;color:#3b4556">2</div><div class="cell" style="left:615.9px;top:286.45px;font-size:7.4px;color:#3b4556">14</div><div class="cell" style="left:647.1px;top:286.45px;font-size:7.4px;color:#3b4556">0</div><div class="cell" style="left:678.3px;top:286.45px;font-size:7.4px;color:#3b4556">19</div><div class="cell" style="left:709.5px;top:286.45px;font-size:7.4px;color:#3b4556">10</div><div class="cell" style="left:740.7px;top:286.45px;font-size:7.4px;color:#3b4556">0</div><div class="cell" style="left:771.9px;top:286.45px;font-size:7.4px;color:#3b4556">0</div><div class="cell" style="left:803.1px;top:286.45px;font-size:7.4px;color:#3b4556">0</div><div class="cell" style="left:834.3px;top:286.45px;font-size:7.4px;color:#3b4556">0</div><div class="cell" style="left:865.5px;top:286.45px;font-size:7.4px;color:#3b4556">0</div><div class="cell" style="left:896.7px;top:286.45px;font-size:7.4px;color:#3b4556">0</div><div class="cell" style="left:927.9px;top:286.45px;font-size:7.4px;color:#3b4556">0</div><div class="cell" style="left:959.1px;top:286.45px;font-size:7.4px;color:#3b4556">15</div><div class="cell" style="left:990.3px;top:286.45px;font-size:7.4px;color:#3b4556">15</div><div class="cell" style="left:1021.5px;top:286.45px;font-size:7.4px;color:#3b4556">9</div><div class="cell" style="left:1052.7px;top:286.45px;font-size:7.4px;color:#3b4556">0</div><div class="cell" style="left:1083.9px;top:286.45px;font-size:7.4px;color:#3b4556">4</div><div class="cell" style="left:522.2px;top:459.49px;font-size:7.4px;color:#3b4556">Totals</div><div class="cell" style="left:584.7px;top:459.49px;font-size:7.4px;color:#3b4556">0</div><div class="cell" style="left:615.9px;top:459.49px;font-size:7.4px;color:#3b4556">0</div><div class="cell" style="left:647.1px;top:459.49px;font-size:7.4px;color:#3b4556">0</div><div class="cell" style="left:678.3px;top:459.49px;font-size:7.4px;color:#3b4556">0</div><div class="cell" style="left:709.5px;top:459.49px;font-size:7.4px;color:#3b4556">0</div><div class="cell" style="left:740.7px;top:459.49px;font-size:7.4px;color:#3b4556">0</div><div class="cell" style="left:771.9px;top:459.49px;font-size:7.4px;color:#3b4556">0</div><div class="cell" style="left:803.1px;top:459.49px;font-size:7.4px;color:#3b4556">0</div><div class="cell" style="left:834.3px;top:459.49px;font-size:7.4px;color:#3b4556">0</div><div class="cell" style="left:865.5px;top:459.49px;font-size:7.4px;color:#3b4556">0</div><div class="cell" style="left:896.7px;top:459.49px;font-size:7.4px;color:#3b4556">0</div><div class="cell" style="left:927.9px;top:459.49px;font-size:7.4px;color:#3b4556">0</div><div class="cell" style="left:959.1px;top:459.49px;font-size:7.4px;color:#3b4556">0</div><div class="cell" style="left:990.3px;top:459.49px;font-size:7.4px;color:#3b4556">0</div><div class="cell" style="left:1021.5px;top:459.49px;font-size:7.4px;color:#3b4556">0</div><div class="cell" style="left:1052.7px;top:459.49px;font-size:7.4px;color:#3b4556">0</div><div class="cell" style="left:1083.9px;top:459.49px;font-size:7.4px;color:#3b4556">0</div><div class="abs" style="left:331.9px;top:325.45px;width:63.6px;height:16.65px;border:1.3px solid #2a6099"></div><div class="abs" style="left:393.3px;top:339.9px;width:3.2px;height:3.2px;background:#2a6099"></div><div class="abs" style="left:1169px;top:125px;width:10px;height:478px;background:#f0f0f0;border-left:1px solid #e6e6e6"></div><div class="abs" style="left:1170.3px;top:136px;width:7.8px;height:20.2px;background:#c2c2c2"></div><div class="abs" style="left:1171.4px;top:129px;width:0;height:0;border-left:2.9px solid transparent;border-right:2.9px solid transparent;border-bottom:3px solid #8a8a8a"></div></body></html>
